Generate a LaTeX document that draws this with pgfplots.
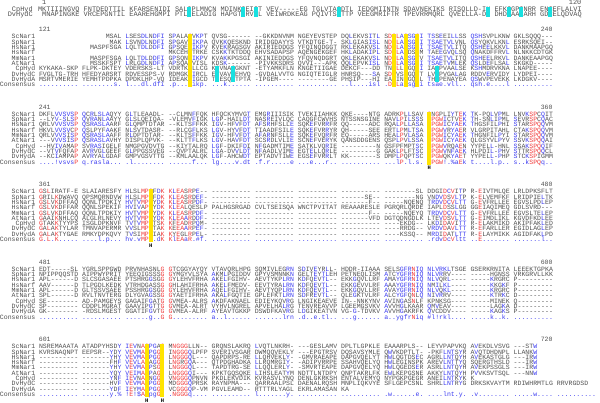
\documentclass[border=0pt]{standalone}
\usepackage{pgfplots}
\usepackage{pgfplotstable}
\pgfplotsset{compat=1.18}
\usepackage{fontspec}
\setmainfont{Liberation Mono}
\setmonofont{Liberation Mono}
\definecolor{tgray}{HTML}{505050}
\definecolor{tred}{HTML}{F03A3A}
\definecolor{tblue}{HTML}{3A3AF0}
\definecolor{hlY}{HTML}{FFE400}
\definecolor{hlC}{HTML}{18E0E0}

\ExplSyntaxOn
\dim_new:N \l_ma_w_dim
\str_new:N \l_ma_row_str
\str_new:N \l_ma_cons_str
\str_new:N \l_ma_r_str
\str_new:N \l_ma_c_str
\str_new:N \l_ma_cu_str
\str_new:N \l_ma_cl_str
\str_new:N \l_ma_set_str
\tl_new:N \l_ma_col_tl
\cs_generate_variant:Nn \str_case:nn { V }
\cs_generate_variant:Nn \str_case:nnF { V }
\cs_new_protected:Npn \ma_box:nn #1 #2
  { \hbox_to_wd:nn { \l_ma_w_dim } { \hss \color{#1} #2 \hss } }
\cs_generate_variant:Nn \ma_box:nn { Vn }
\cs_new_protected:Npn \ma_in:n #1
  {
    \str_set:Nn \l_ma_set_str {#1}
    \exp_args:NNV \str_if_in:NnT \l_ma_set_str \l_ma_r_str
      { \tl_set:Nn \l_ma_col_tl { tblue } }
  }
\cs_new_protected:Npn \ma_rowchar:
  {
    \str_if_eq:VnTF \l_ma_r_str { _ }
      { \skip_horizontal:N \l_ma_w_dim }
      {
        \tl_set:Nn \l_ma_col_tl { tgray }
        \str_set:Nx \l_ma_cu_str { \str_uppercase:f { \l_ma_c_str } }
        \str_set:Nx \l_ma_cl_str { \str_lowercase:f { \l_ma_c_str } }
        \str_if_eq:NNTF \l_ma_c_str \l_ma_cl_str
          {
            \str_if_eq:NNTF \l_ma_c_str \l_ma_cu_str
              {
                \str_case:Vn \l_ma_c_str
                  {
                    { ! } { \ma_in:n { IV } }
                    { @ } { \ma_in:n { LM } }
                    { + } { \ma_in:n { FY } }
                    { = } { \ma_in:n { NDQEBZ } }
                  }
              }
              {
                \str_if_eq:NNT \l_ma_r_str \l_ma_cu_str
                  { \tl_set:Nn \l_ma_col_tl { tblue } }
              }
          }
          {
            \str_if_eq:NNT \l_ma_r_str \l_ma_c_str
              { \tl_set:Nn \l_ma_col_tl { tred } }
          }
        \ma_box:Vn \l_ma_col_tl { \l_ma_r_str }
      }
  }
\cs_new_protected:Npn \ma_conschar:
  {
    \str_set:Nx \l_ma_cl_str { \str_lowercase:f { \l_ma_r_str } }
    \str_case:VnF \l_ma_r_str
      {
        { _ } { \skip_horizontal:N \l_ma_w_dim }
        { @ } { \ma_box:nn { tblue } { \c_dollar_str } }
        { + } { \ma_box:nn { tblue } { \c_percent_str } }
        { = } { \ma_box:nn { tblue } { \c_hash_str } }
      }
      {
        \str_if_eq:NNTF \l_ma_r_str \l_ma_cl_str
          { \ma_box:nn { tblue } { \l_ma_r_str } }
          { \ma_box:nn { tred } { \l_ma_r_str } }
      }
  }
\cs_new_protected:Npn \ma_loop:n #1
  {
    \hbox:n
      {
        \int_step_inline:nn { \str_count:N \l_ma_row_str }
          {
            \str_set:Nx \l_ma_r_str { \str_item:Nn \l_ma_row_str {##1} }
            \str_set:Nx \l_ma_c_str { \str_item:Nn \l_ma_cons_str {##1} }
            #1
            \int_compare:nNnT { \int_mod:nn {##1} {10} } = { 0 }
              { \skip_horizontal:N \l_ma_w_dim }
          }
      }
  }
\NewDocumentCommand \SeqRow { m m m }
  {
    \dim_set:Nn \l_ma_w_dim {#1}
    \str_set:Nx \l_ma_cons_str {#2}
    \str_remove_all:Nn \l_ma_cons_str { ~ }
    \str_set:Nn \l_ma_row_str {#3}
    \str_remove_all:Nn \l_ma_row_str { ~ }
    \ma_loop:n { \ma_rowchar: }
  }
\NewDocumentCommand \ConsRow { m m }
  {
    \dim_set:Nn \l_ma_w_dim {#1}
    \str_set:Nx \l_ma_row_str {#2}
    \str_remove_all:Nn \l_ma_row_str { ~ }
    \ma_loop:n { \ma_conschar: }
  }
\ExplSyntaxOff

\def\consNone{}
\def\consB{.......... ........s. l...dl.dfi .p...Cikp. ...k...... .......... .......... ..l....isl .DCLaCsgCi tsae.vll.. qsh.e....l ..........}
\def\consC{....!vsvsP q.rasla... .l........ ......f... lg....v.dt .f.r.....e ...e...r.. .......... ...lP.l.s. CPGW!.+aEk t....l.p.. s..kSPQq..}
\def\consD{G.L.K..... ....l.p... hv.vMPC.dK KlEAaR.=f. .......... .......... .......... .......... .......... .rdvDcVltt ..E....... .......l..}
\def\consE{.......... .......... ......g..G G......... a..l...... .......lrn .d..e.tl.. ...g...... a..ygfrNiq =l!rkl.... .....k..k. ..........}
\def\consF{.......... .......y.+ !E!@ACpgGC .NGGGq.... .......... l.......y. .......... .......... .w......e. ....lnt.y. .v........ .....w.... ..........}

% geometry (1 axis unit = 1bp)
\def\WA{4.2}\def\XA{43}
\def\WB{3.97}\def\XB{44}
\def\Pt{5.37}
\def\BL{2.2}
\newcommand\fntA{\fontsize{7bp}{7bp}\selectfont}
\newcommand\fntB{\fontsize{6.6bp}{6.6bp}\selectfont}
\newcommand\RA[3]{%
  \node[anchor=base east,inner sep=0,text=tgray,font=\fntA] at (axis cs:\XA-5,#1+\BL) {#2};
  \node[anchor=base west,inner sep=0,font=\fntA] at (axis cs:\XA,#1+\BL) {\SeqRow{\WA bp}{\consNone}{#3}};
}
\newcommand\RB[4]{%
  \node[anchor=base east,inner sep=0,text=tgray,font=\fntB] at (axis cs:\XB-3.5,#1+\BL) {#2};
  \node[anchor=base west,inner sep=0,font=\fntB] at (axis cs:\XB,#1+\BL) {\SeqRow{\WB bp}{#3}{#4}};
}
\newcommand\CB[2]{%
  \node[anchor=base east,inner sep=0,text=tgray,font=\fntB] at (axis cs:\XB-3.5,#1+\BL) {Consensus};
  \node[anchor=base west,inner sep=0,font=\fntB] at (axis cs:\XB,#1+\BL) {\ConsRow{\WB bp}{#2}};
}
\newcommand\HdA[3]{%
  \node[anchor=base,inner sep=0,text=tgray,font=\fntA] at (axis cs:\XA+1.5*\WA,#1+\BL) {#2};
  \node[anchor=base east,inner sep=0,text=tgray,font=\fntA] at (axis cs:\XA+131*\WA,#1+\BL) {#3};
}
\newcommand\HdB[3]{%
  \node[anchor=base,inner sep=0,text=tgray,font=\fntB] at (axis cs:\XB+1.5*\WB,#1+\BL) {#2};
  \node[anchor=base east,inner sep=0,text=tgray,font=\fntB] at (axis cs:\XB+131*\WB,#1+\BL) {#3};
}

\pgfdeclareplotmark{cellA}{\pgfpathrectangle{\pgfpoint{-2.1bp}{-2.7bp}}{\pgfpoint{4.2bp}{5.4bp}}\pgfusepathqfill}
\pgfdeclareplotmark{cellB}{\pgfpathrectangle{\pgfpoint{-1.985bp}{-2.685bp}}{\pgfpoint{3.97bp}{5.37bp}}\pgfusepathqfill}
\pgfdeclareplotmark{colY}{\pgfpathrectangle{\pgfpoint{-1.985bp}{-26.85bp}}{\pgfpoint{3.97bp}{53.7bp}}\pgfusepathqfill}

\pgfplotstableread{
b p
2 36
2 83
2 86
2 89
3 91
4 27
6 26
6 30
}\yellowtab
\pgfplotstableread{
b p
3 91
4 27
6 26
6 30
}\htab
\pgfplotstableread{
p r
34 0
34 1
46 0
46 1
49 0
49 1
67 0
67 1
100 0
100 1
104 0
104 1
107 0
107 1
113 0
113 1
}\cyanA
\pgfplotstableread{
b p r
2 42 6
2 42 7
2 42 8
2 46 6
2 46 7
2 46 8
2 93 6
2 93 7
2 93 8
}\cyanB

\begin{document}
\begin{tikzpicture}
\begin{axis}[
  width=600bp, height=423bp, scale only axis,
  xmin=0, xmax=600, ymin=0, ymax=423, y dir=reverse,
  hide axis, clip=false,
]
\addplot[only marks, mark=colY, color=hlY] table[
  x expr={\XB+(\thisrow{p}-1+floor((\thisrow{p}-1)/10)+0.5)*\WB},
  y expr={38.3+78.4*(\thisrow{b}-2)+4.5*\Pt}] {\yellowtab};
\addplot[only marks, mark=cellA, color=hlC] table[
  x expr={\XA+(\thisrow{p}-1+floor((\thisrow{p}-1)/10)+0.5)*\WA},
  y expr={10.6+5.4*\thisrow{r}}] {\cyanA};
\addplot[only marks, mark=cellB, color=hlC] table[
  x expr={\XB+(\thisrow{p}-1+floor((\thisrow{p}-1)/10)+0.5)*\WB},
  y expr={38.3+78.4*(\thisrow{b}-2)+\Pt*\thisrow{r}}] {\cyanB};
\addplot[only marks, color=black, mark=text, text mark={\fontsize{5.5bp}{5.5bp}\selectfont\bfseries H}] table[
  x expr={\XB+(\thisrow{p}-1+floor((\thisrow{p}-1)/10)+0.5)*\WB},
  y expr={38.3+78.4*(\thisrow{b}-2)+10*\Pt+0.8}] {\htab};

% ---------------- Block 1 ----------------
\HdA{3.6}{1}{120}
\RA{10.6}{CpHyd}{MKTIIINGVQ FNTDEDTTIL KFARSENIDI SALCPLMNCN MDINKCEICT VEV-----EG TGLVTACDTL IEDGMIINTN SDAVNEKIKS RISQLLD-IH EFKCGPCNRR ENCEFLALVI}
\RA{16.0}{DvHydC}{_MNAPINGKE VRCEPGNTIL EAAREHGMPI PTLCELADIG HAPGTCRVCL VEIWRDKEAG PQIVTSCTTP VEEGMRIFTR TPEVRRMQRL QVELLLA-DH DHDCAACARH GDCELQDVAQ}

% ---------------- Block 2 ----------------
\HdB{31.1}{121}{240}
\RB{38.30}{ScNar1}{\consB}{__________ ______MSAL LSESDLNDFI SPALACVKPT QVSG------ --GKKDNVNM NGEYEVSTEP DQLEKVSITL SDCLACSGCI TSSEEILLSS QSHSVPLKNW GKLSQQQ---}
\RB{43.67}{SpNar1}{\consB}{__________ _______MAK LSVNDLNDFI SPGAVCIKPA QVKKQESKND IRIDGDAYYS VTKDTGE-T- SKLGIASISL NDCLACSGCI TSAETVLVNL QSYQKVLKNL ESRKSQEI--}
\RB{49.04}{HsNar1}{\consB}{__________ __MASPFSGA LQLTDLDDFI GPSQECIKPV KVEKRAGSGV AKIRIEDDGS YFQINQDGGT RKLEKAKVSL NDCLACSGCI TSAETVLITQ QSHEELKKVL DANKMAAPGQ}
\RB{54.41}{HsNarf}{\consB}{__________ __________ __________ MKCEHCTRKE CSKKTKTDDQ EHVSADAPSP AQENGEKGEF HKLADAKIPL SDCLACDSCM TAEEGVQLSQ QNAKDFFRVL NLNKKCDTGK}
\RB{59.78}{MmNar1}{\consB}{__________ __MASPFSGA LQLTDLDDFI GPSQNCIKPV KVAKKPGSGI AKINIEDDGS YFQVNQDGRT QKLEKAKVSL NDCLACSGCV TSAETVLITQ QSHEELRKVL DANKEAAPGQ}
\RB{65.15}{AtNar1}{\consB}{__________ __MSSKFSPT LRLGDLNDFI APSQACVISL KDSK------ -PIVKKSDRS QVVI---APK QQLEPVKISL NDCLACSGCI TSAETVMLEK QSLDEFLSAL SKGKD-----}
\RB{70.52}{CpHyd}{\consB}{KYKAKA-SKP FLPK-DKTEY VDERSKS-LT VDRTKCLLCG KCVNACGKNT -ETYAMKFLN KNGETIIGAE DEKCF---DD TNCLLCGQCI IACPVAALSE KSHMDRVKNA LNAPEE----}
\RB{75.89}{DvHydC}{\consB}{FVGLTG-TRH HFEDYARSRT RDVESSPS-V RDMGKCIRCL ECVAVCEHVQ -GVDALVVTG NGIQTEIGLR HNRSQ---SA SDCVSCGQCT LVCPVGALAG RDDVERVIDY LYDPEI----}
\RB{81.26}{DvHydA}{\consB}{MSRTVMERIE YEMHTPDPKA DPDKLHP-VQ IDEAKCIGCD TCESQCTPTA -IPGEM---- --------GE PHSIP---HI EACINCGQCL THCPENAYEA QSWVPEVEKK LKDGKV----}
\CB{86.63}{\consB}

% ---------------- Block 3 ----------------
\HdB{109.5}{241}{360}
\RB{116.70}{ScNar1}{\consC}{DKFLVVSVSP QCRLSLAQYY GLTLEAADL- --CLMNFFQK HFQCKYMVGT EMGRIIISIK TVEKIIAHKK QKE----NTG ADRKPLLSAV CNGPLIYTEK TK-PQLVPML LNVKSPCQIT}
\RB{122.07}{SpNar1}{\consC}{--LYV-SLSP QVRANLAAYY GLSLQEIQA- -VLEMVFIGK LGP-HAILDT NASREIVLQC CAQGFCWVHS NTSSNSGINE NAVLPILSSS CPGWICTVEK TH-SNLIPML SEVRSPCQAC}
\RB{127.44}{HsNar1}{\consC}{QRLVVVSVSP QSRASLAARF GLQMPTDTAR --KLTSFFKK IGV-HFVFDT AFSRHFSLLE SQKEFVRRFR QQ-----ADC RQALPLLASA CPGWICYAEK THGSFILPHI STARSPQQVM}
\RB{132.81}{HsNarf}{\consC}{HKVLVVSVCP QSLPYFAAKF NLSVTDASR- --RLCGFLKS LGV-HYVFDT TIAADFSILE SQKEFVRRYR QH-----SEE ERTLPMLTSA CPGWVRYAER VLGRPITAHL CTAKSPQQVM}
\RB{138.18}{MmNar1}{\consC}{QRLVVVSISP QSRASLAAFF RLDPTDTAR- --KLTSFFKK IGV-HFVFDT AFARNFSLLE SQKEFVQRFR EQ-----ARS HEALPVLASA CPGWICYAEK THGNFILPYI STARSPQQVM}
\RB{143.55}{AtNar1}{\consC}{---VVVSISP QSRASLAVHY DISPLQPVK- --KLTTFLKS LGV-HAVFDT SCSRDLVLIE SCNEFVERYK QANSDDGENS QSPLPVLSSA CPGWICYAEK QLGSYVLPYV SSVKSPQQAI}
\RB{148.92}{CpHyd}{\consC}{--HVIVAMAP SVRASIGELF NMGPGVDVTG --KIYTALRQ LGF-DKIFDI NFGADMTIME SATKLVQRIE ---------N GSFPFMPTSC CPGWVRQAEN YYPELL-HNL SSAKSPQQIF}
\RB{154.29}{DvHydC}{\consC}{--VTVFQFAP AVRVGLGEEF GLPPGSSVEG --QVPTALRL LGA-DVVLDT NFAADLVIME EGTELLQRLE ---------G GAKLPLFTSC CPGWVNFAEK HLPDIL-PHV STTRSPQQCL}
\RB{159.66}{DvHydA}{\consC}{--KCIAMPAP AVRYALGDAF GMPVGSVTTG --KMLAALQK LGF-AHCWDT EPTADVTIWE EGSEFVRRLT KK-------S DMPLPQPTSC CPGWQKYAET YYPELL-PHP STCKSPIGMM}
\CB{165.03}{\consC}

% ---------------- Block 4 ----------------
\HdB{187.9}{361}{480}
\RB{195.10}{ScNar1}{\consD}{GSLIRATF-E SLAIARESFY HLSLMPCFDK KLEASRPE-- ---------- ---------- ---------- ---------- --------SL DDGIDCVITP R-EIVTMLQE LRLDPKSFLT}
\RB{200.47}{SpNar1}{\consD}{GRILKDWAVQ QPSMQRNDVW HLSLMPCFDK KLEASRDEF- ---------- ---------- ---------- ------SE-- --------NG VNDVDSVLTP K-ELVEMFKF LRIDPIELTK}
\RB{205.84}{HsNar1}{\consD}{GSLVKDFFAQ QQNLTPDKIY HVTVMPCYDK KLEASRPDF- ---------- ---------- ---------- -------F-- -----NQENQ TRDVDCVLTT G-EVFRLLEE EGVSLPDLEP}
\RB{211.21}{HsNarf}{\consD}{GSLVKDFFAR QQNLSPEKIF HVIVAPCYDK KLEALQESLP PALHGSRGAD CVLTSEISQA WNCTPVITAT REAAARESLE PGRQRLQRDE IAPLDSSLGG GGEIAQIMEQ GDLSVRD---}
\RB{216.58}{MmNar1}{\consD}{GSLVKDFFAQ QQNLTPDKIY HVTVMPCYDK KLEASRPDF- ---------- ---------- ---------- -------F-- -----NQEYQ TRDVDCVLTT G-EVFRLLEE EGVSLTELEP}
\RB{221.95}{AtNar1}{\consD}{GAAIKNHLCQ ALGLRLNEVY HVTVMPCYDK KLEAARDDF- ---------- ---------- ---------- -------VFD DGTQDNGDLK LTEVDSVLTT G-EIMDLIKL KGVDFKDLEE}
\RB{227.32}{CpHyd}{\consD}{GTAKKTYYPS ISGLDPKNVF TVTVMPCTSK KFEADRPQM- ---------- ---------- ---------- ---------- ----EKDG-- LKDIDAVITT R-ELAKMIKD AKIPFAKLED}
\RB{232.69}{DvHydC}{\consD}{GALAKTYLAR TMNVAPERMR VVSLMPCTAK KEEAARPEF- ---------- ---------- ---------- ---------- ----RRDG-- VRDVDAVLTT R-EFARLLER EGIDLAGLEP}
\RB{238.06}{DvHydA}{\consD}{GALAKTYGAE RMKYDPKQVY TVSIMPCIAK KYEGLRPEL- ---------- ---------- ---------- ---------- ----KSSQ-- MRDIDATLTT R-ELAYMIKK AGIDFAKLPD}
\CB{243.43}{\consD}

% ---------------- Block 5 ----------------
\HdB{266.3}{481}{600}
\RB{273.50}{ScNar1}{\consE}{EDT-----SL YGRLSPPGWD PRVNHASNLG GTCGGYAYQY VTAVQRLHPG SQMIVLEGRN SDIVEYRLL- HDDR-IIAAA SELSGFRNIQ NLVRKLTSGE GSERKRNITA LEEEKTGPKA}
\RB{278.87}{SpNar1}{\consE}{NPIPPQQSTD AIPPWYPRIT YEEQIGSSSG GYMGYVLSYA AKMLPGIDDV GPYVSMNNKN GELTEYTLEH PETNEQLISM ATCYGFRNIQ NLVRRV---- -----HGNSS VRKGRVLLKK}
\RB{284.24}{HsNar1}{\consE}{APL------D SLCSGASAEE PTSHRGGSGG GYLEHVFRHA AKELFGIHV- AEVTYKPLRN KDFQEVTL-- EKKGQVLLRF AMAYGFRNIQ NLVQRL---- -----KRGRC P---------}
\RB{289.61}{HsNarf}{\consE}{AAV------D TLPGDLKEDK VTRHDGASSG GHLAHIFRHA AKELFMEDV- EEVTYRALRN KDFQEVTL-- EKKGEVVLRF AAAYGFRNIQ NMILKL---- -----KKGKF P---------}
\RB{294.98}{MmNar1}{\consE}{APL------D GLTSSVSAEE PSSHRGGSGG GYLEHVFRHA AQELFGIHV- AEVTYQPLRN KDFQEVTL-- EKKGQVLLRF AVAYGFRNIQ NLVQKL---- -----KRGRC P---------}
\RB{300.35}{AtNar1}{\consE}{SPL------D RVLTNVTERG DLYGVAGSSG GYAETIFRHA AKALFGQTIE GPLEFKTLRN SDFREVTL-- QLEGKTVLRF ALCYGFQNLQ NIVRRV---- -----KTRKC D---------}
\RB{305.72}{CpHyd}{\consE}{SE-------- AD-PAMGEYS GAGAIFGATG GVMEA-ALRS AKDFAKNAEL EDIEYKQVRG LNGIKEAEVE IN--NNKYNV AVINGASNLF KPNKSG---- -----MINEK Q---------}
\RB{311.09}{DvHydC}{\consE}{SP-------- CDDPLMGRAT GAAVIPGTTG GVMEA-ALRT VYHVLNGREL APVELHALRG TENVREAVVP LGEEMGSVKV AVVHGLKAAR QMVEAV---- -----LAGKA D---------}
\RB{316.46}{DvHydA}{\consE}{GK-------- -RDSLMGEST GGATIFGVTG GVMEA-ALRF AYEAVTGKKP DSWDFKAVRG LDGIKEATVN VG-G-TDVKV AVVHGAKRFK QVCDDV---- -----KAGKS P---------}
\CB{321.83}{\consE}

% ---------------- Block 6 ----------------
\HdB{344.7}{601}{720}
\RB{351.90}{ScNar1}{\consF}{NSREMAAATA ATADPYHSDY IEVNACPGAC MNGGGLLN-- GRQNSLAKRQ LVQTLNKRH- ---GESLAMV DPLTLGPKLE EAAARPLS-- LEYVPAPVKQ AVEKDLVSVG ---STW}
\RB{357.27}{SpNar1}{\consF}{KVRSNAQNPT EEPSR--YDY VEVMACPGGC INGGGQLPFP SVERIVSGAR DWMQQVEKLY ---EPGTRSV DQSAVSYMLE QWVKDPTLT- -PKFLNTSYR AVQTDHDNPL LLANKW}
\RB{362.64}{HsNar1}{\consF}{---------- -------YHY VEVMACPGGC LNGGGQL--- QAPDRPS-RE LLQHVEKLY- -GMVRAEAPE DAPGVQELYT HWLQGTDSEC AGRLLNTQYH AVEKASTGLG ---IRW}
\RB{368.01}{HsNarf}{\consF}{---------- -------FHF VEVLACAGGC LNGRGQA--- QTPDGHADKA LLRQMRGIY- -ADIPVRRPE SSAHVQELYQ HWLEGINSPK AREVLNTTYQ SQERGTHSLD ---IRW}
\RB{373.38}{MmNar1}{\consF}{---------- -------YHY VEVMACPSGC LNGGGQL--- TAPDTRG-SE LLQQLERLY- -SMVRTEAPE DAPGVQELYQ HWLQGEDSER ASRLLNTQYH AVEKPSSGLS ---IRW}
\RB{378.75}{AtNar1}{\consF}{---------- -------YQY VEIMACPAGC LNGGGQI--- KPKTGQSQKE LIHSLEATYM NDTTLNTDPY QNPTAKRLFK EWLKEPGSNE AKKYLNTQYH PVVKSVTSQL ---NNW}
\RB{384.12}{CpHyd}{\consF}{---------- -------YNF IEVNACNGGC VNGGGQPNVN PKDLEKVDIK KVRASVLYNQ DENLGKRKSH ENTALVEMYQ NYPGKPGEGR ANEILNTKYK K}
\RB{389.49}{DvHydC}{\consF}{---------- -------HVF VEVMACPGGC MDGGGQPRSK RAYNPMA--- QARRAALPSL DAENALRQSH MNPLIQKVYE SFLGEPCSNL SHRLLNTRYG DRKSKVAYTM RDIWHRMTLG RRVRGDSD}
\RB{394.86}{DvHydA}{\consF}{---------- -------YDF IEYMACPGGC VCGGGQP-VM PGVLEAMD-- RTTTRLYAGL EKRLAMASAN KA}
\CB{400.23}{\consF}
\end{axis}
\end{tikzpicture}
\end{document}
